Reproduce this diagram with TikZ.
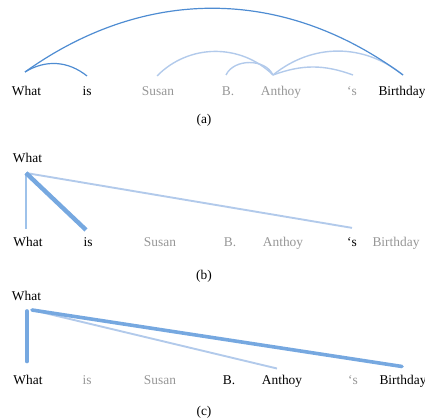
\documentclass[tikz,border=0pt]{standalone}
\usepackage{fontspec}
\setmainfont{Liberation Serif}
\definecolor{arcdark}{RGB}{78,140,210}
\definecolor{arclight}{RGB}{178,202,235}
\definecolor{linkmid}{RGB}{118,168,224}
\definecolor{linksoft}{RGB}{158,194,234}
\definecolor{wordgray}{RGB}{150,150,150}
\begin{document}
\begin{tikzpicture}[x=1pt, y=1pt,
    word/.style={anchor=base, inner sep=0pt, font=\fontsize{13.4}{16}\selectfont},
    dim/.style={word, text=wordgray},
    strong/.style={draw=arcdark, line width=1.2pt},
    weak/.style={draw=arclight, line width=1.4pt},
    heavy/.style={draw=linkmid, line width=3.6pt, line cap=round},
    light/.style={draw=arclight, line width=1.9pt}]
    \useasboundingbox (0,0) rectangle (425,419);
    % (a)
    \node[word] (aWhat) at (26.5,323) {What};
    \node[word] (aIs)   at (87,323)   {is};
    \node[dim]  (aSus)  at (158,323)  {Susan};
    \node[dim]  (aB)    at (228,323)  {B.};
    \node[dim]  (aAnt)  at (281,323)  {Anthoy};
    \node[dim]  (aS)    at (352,323)  {`s};
    \node[word] (aBir)  at (402,323)  {Birthday};
    \node[word] (capA)  at (204,295)  {(a)};
    \coordinate (pWhat) at (25,347);
    \coordinate (pIs)   at (87,343);
    \coordinate (pSus)  at (157,343);
    \coordinate (pB)    at (226,344);
    \coordinate (pAnt)  at (273,344);
    \coordinate (pS)    at (353,344);
    \coordinate (pBir)  at (403,344);
    \draw[weak] (pSus) to[bend left=45] (pAnt);
    \draw[weak] (pB) to[bend left=65] (pAnt);
    \draw[weak] (pAnt) to[bend left=20] (pS);
    \draw[weak] (pAnt) to[bend left=39] (pBir);
    \draw[strong] (pWhat) to[bend left=35] (pIs);
    \draw[strong] (pWhat) to[bend left=36] (pBir);
    % (b)
    \node[word] (bTop)  at (27.5,256) {What};
    \node[word] (bWhat) at (28,172)   {What};
    \node[word] (bIs)   at (88,172)   {is};
    \node[dim]  (bSus)  at (160,172)  {Susan};
    \node[dim]  (bB)    at (230,172)  {B.};
    \node[dim]  (bAnt)  at (283,172)  {Anthoy};
    \node[word] (bS)    at (352,172)  {`s};
    \node[dim]  (bBir)  at (396,172)  {Birthday};
    \node[word] (capB)  at (204,139)  {(b)};
    \coordinate (bRoot) at (26,246);
    \draw[light] (bRoot) -- ([shift={(0,10)}]bS.north);
    \draw[draw=linksoft, line width=2.8pt] (bRoot) -- ([shift={(-2,8)}]bWhat.north);
    \draw[heavy, line width=4.4pt, line cap=butt] (bRoot) -- ([shift={(-2,8)}]bIs.north);
    % (c)
    \node[word] (cTop)  at (26.5,118) {What};
    \node[word] (cWhat) at (28,34)    {What};
    \node[dim]  (cIs)   at (87,34)    {is};
    \node[dim]  (cSus)  at (160,34)   {Susan};
    \node[word] (cB)    at (229,34)   {B.};
    \node[word] (cAnt)  at (282,34)   {Anthoy};
    \node[dim]  (cS)    at (353,34)   {`s};
    \node[word] (cBir)  at (403,34)   {Birthday};
    \node[word] (capC)  at (204,3)    {(c)};
    \coordinate (cRoot) at (32,109);
    \coordinate (cStem) at (27,108);
    \draw[light] (cRoot) -- ([shift={(-5,7)}]cAnt.north);
    \draw[heavy] (cRoot) -- ([shift={(-1,9)}]cBir.north);
    \draw[heavy] (cStem) -- ([shift={(-1,14)}]cWhat.north);
\end{tikzpicture}
\end{document}
